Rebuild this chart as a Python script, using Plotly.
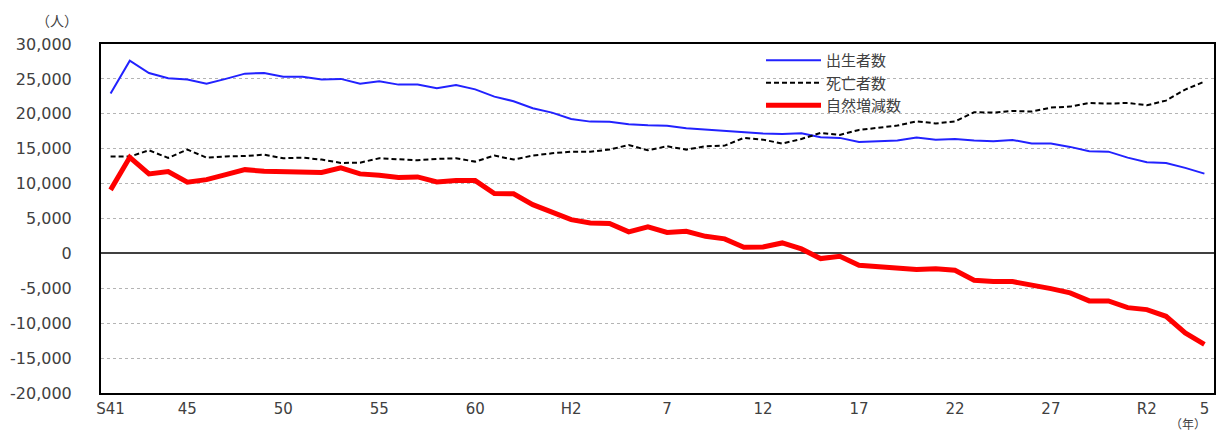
import plotly.graph_objects as go

# Years S41 (1966) .. R5 (2023)
years = (["S%d" % y for y in range(41, 64)] +
         ["H%d" % y for y in range(1, 31)] +
         ["R%d" % y for y in range(1, 6)])

births = [22900, 27600, 25850, 25100, 24900, 24300, 25000, 25750, 25850, 25300,
          25300, 24900, 25000, 24300, 24650, 24180, 24180, 23650, 24130, 23500,
          22460, 21800, 20800, 20170, 19270, 18880, 18850, 18500, 18350, 18300,
          17930, 17740, 17550, 17450, 17160, 17120, 17200, 16630, 16550, 15970,
          16020, 16160, 16590, 16300, 16400, 16160, 16060, 16260, 15730, 15730,
          15260, 14630, 14580, 13720, 13050, 12960, 12250, 11430]

deaths = [13870, 13870, 14770, 13680, 14870, 13720, 13900, 13950, 14150, 13630,
          13720, 13440, 12960, 13000, 13630, 13440, 13340, 13540, 13630, 13150,
          14010, 13440, 14010, 14340, 14580, 14580, 14870, 15540, 14770, 15350,
          14870, 15350, 15440, 16550, 16300, 15730, 16400, 17260, 16980, 17690,
          17980, 18310, 18930, 18620, 18900, 20220, 20170, 20410, 20320, 20890,
          21030, 21560, 21460, 21560, 21220, 21890, 23470, 24610]

natural = [9100, 13770, 11390, 11720, 10190, 10570, 11290, 12000, 11760, 11720,
           11620, 11600, 12250, 11390, 11200, 10860, 10960, 10240, 10430, 10430,
           8570, 8530, 6990, 5890, 4840, 4370, 4300, 3080, 3800, 3000,
           3170, 2450, 2080, 870, 930, 1500, 640, -740, -410, -1700,
           -1930, -2130, -2320, -2200, -2420, -3850, -4040, -4040, -4470, -5040,
           -5660, -6810, -6810, -7770, -8050, -9010, -11390, -13020]

tick_cats = ["S41", "S45", "S50", "S55", "S60", "H2", "H7", "H12", "H17", "H22", "H27", "R2", "R5"]
tick_text = ["S41", "45", "50", "55", "60", "H2", "7", "12", "17", "22", "27", "R2", "5"]

y_ticks = [30000, 25000, 20000, 15000, 10000, 5000, 0, -5000, -10000, -15000, -20000]
y_text = ["30,000", "25,000", "20,000", "15,000", "10,000", "5,000", "0",
          "-5,000", "-10,000", "-15,000", "-20,000"]

FONT = "DejaVu Sans, Verdana, sans-serif"
CJK = "Noto Sans CJK JP, sans-serif"
TXT = "#404040"

fig = go.Figure()
fig.add_trace(go.Scatter(x=years, y=births, mode="lines", name="出生者数",
                         line=dict(color="#2222ff", width=2)))
fig.add_trace(go.Scatter(x=years, y=deaths, mode="lines", name="死亡者数",
                         line=dict(color="#000000", width=2, dash="5px,3px")))
fig.add_trace(go.Scatter(x=years, y=natural, mode="lines", name="自然増減数",
                         line=dict(color="#ff0000", width=5)))

fig.update_layout(
    width=1216, height=434,
    margin=dict(l=101, r=2, t=44, b=41, autoexpand=False),
    paper_bgcolor="white", plot_bgcolor="white",
    font=dict(family=FONT, size=16, color=TXT),
    showlegend=True,
    legend=dict(x=0.593, y=1.0, xanchor="left", yanchor="top",
                bgcolor="rgba(0,0,0,0)", borderwidth=0,
                font=dict(family=CJK, size=15, color=TXT),
                itemwidth=55, tracegroupgap=0),
    xaxis=dict(type="category", range=[-0.5, len(years) - 0.5],
               tickmode="array", tickvals=tick_cats, ticktext=tick_text,
               showgrid=False, showline=True, linecolor="#000000", linewidth=2,
               mirror=True, ticks="", ticklabelstandoff=1, automargin=False,
               tickfont=dict(family=FONT, size=15, color=TXT)),
    yaxis=dict(range=[-20000, 30000], tickmode="array",
               tickvals=y_ticks, ticktext=y_text,
               showgrid=True, gridcolor="#b4b4b4", griddash="dot", gridwidth=1,
               zeroline=True, zerolinecolor="#404040", zerolinewidth=1.5,
               showline=True, linecolor="#000000", linewidth=2, mirror=True,
               ticks="", ticklabelstandoff=24, automargin=False,
               tickfont=dict(family=FONT, size=16, color=TXT)),
)

# white panel behind the legend that hides the gridlines
fig.add_shape(type="rect", xref="paper", yref="paper",
              x0=(720 - 101) / 1113, x1=(953 - 101) / 1113,
              y0=1 - (128 - 44) / 349, y1=1 - (47 - 44) / 349,
              fillcolor="white", line=dict(width=0), layer="between")

fig.add_annotation(text="（人）", xref="paper", yref="paper", x=-0.0395, y=1.0,
                   xanchor="center", yanchor="middle", yshift=24, showarrow=False,
                   font=dict(family=CJK, size=14, color=TXT))
fig.add_annotation(text="（年）", xref="paper", yref="paper", x=0.977, y=0.0,
                   xanchor="center", yanchor="bottom", yshift=-41, showarrow=False,
                   font=dict(family=CJK, size=12, color=TXT))

fig.write_html("out.html",
               config={"displayModeBar": False},
               post_script="document.body.style.margin='0';"
                           "document.body.style.overflow='hidden';")
